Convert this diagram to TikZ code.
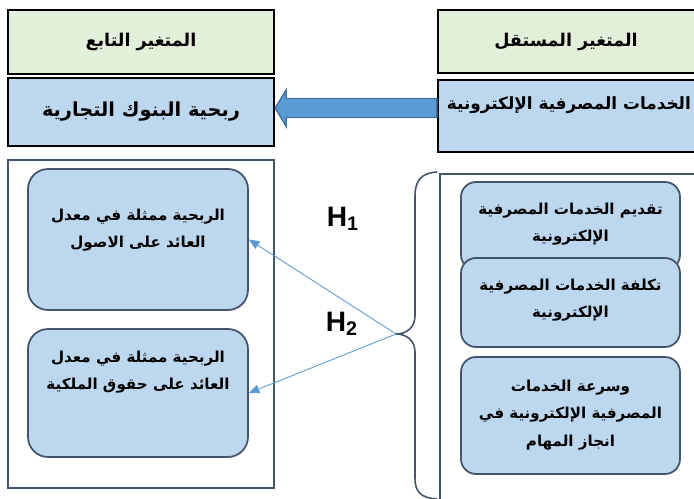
\documentclass[tikz,border=0pt]{standalone}
\usepackage{fontspec}
\usetikzlibrary{calc,arrows.meta}
\TeXXeTstate=1
\newfontfamily\arabicfont[Script=Arabic]{DejaVu Sans}
\newfontfamily\latinfont{Liberation Sans}
\definecolor{headgreen}{HTML}{E2EFD9}
\definecolor{varblue}{HTML}{BDD7EE}
\definecolor{arrowfill}{HTML}{5B9BD5}
\definecolor{arrowline}{HTML}{41719C}
\definecolor{framecol}{HTML}{44546A}
\begin{document}
\begin{tikzpicture}[x=0.02cm,y=-0.02cm,
  head/.style={draw=black,line width=1.4pt,fill=headgreen,minimum width=5.32cm,minimum height=1.28cm,
    font=\arabicfont\bfseries\fontsize{10}{13}\selectfont},
  var/.style={draw=black,line width=1.4pt,fill=varblue,minimum width=5.32cm,minimum height=1.36cm,
    font=\arabicfont\bfseries\fontsize{11}{13}\selectfont},
  frame/.style={draw=framecol,line width=1pt,minimum width=5.32cm,minimum height=6.56cm},
  inbox/.style={draw=framecol,line width=1pt,fill=varblue,rounded corners=0.4cm,minimum width=4.4cm},
  intext/.style={align=center,font=\arabicfont\bfseries\fontsize{8.6}{15.5}\selectfont},
  hyp/.style={draw=arrowfill,line width=0.5pt,-{Triangle[length=6pt,width=5pt]}},
  hlab/.style={font=\latinfont\bfseries\fontsize{16}{18}\selectfont}]
\useasboundingbox (0,0) rectangle (694,499);
\clip (0,0) rectangle (694,499);
\node[head] (depHead) at (141,42) {\beginR المتغير التابع\endR};
\node[var] (depVar) at (141,112) {\beginR ربحية البنوك التجارية\endR};
\node[head,minimum width=5.2cm,minimum height=1.26cm] (indHead) at (568,41.5) {};
\node[font=\arabicfont\bfseries\fontsize{10}{13}\selectfont] (indHeadT) at (566,41.5) {\beginR المتغير المستقل\endR};
\node[var,minimum width=5.2cm,minimum height=1.44cm] (indVar) at (568,116) {};
\node[font=\arabicfont\bfseries\fontsize{9.6}{13}\selectfont,anchor=east,inner sep=1pt] (indVarT) at (693,105) {\beginR الخدمات المصرفية الإلكترونية\endR};
\coordinate (atip) at ($(depVar.east)+(0,-4)$);
\coordinate (aend) at ($(indVar.west)+(0,-8)$);
\draw[fill=arrowfill,draw=arrowline,line width=0.8pt] (atip) -- ++(11,-18) -- ++(0,8.5) -- ($(aend)+(0,-9.5)$)
  -- ($(aend)+(0,9.5)$) -- ($(atip)+(11,9.5)$) -- ++(0,9) -- cycle;
\node[frame] (depFrame) at (141,324) {};
\node[inbox,minimum height=2.82cm] (prof1) at (138,239.5) {};
\node[intext] (prof1t) at (138,230) {\beginR الربحية ممثلة في معدل\endR\\\beginR العائد على الاصول\endR};
\node[inbox,minimum height=2.56cm] (prof2) at (138,393) {};
\node[intext] (prof2t) at (138,372) {\beginR الربحية ممثلة في معدل\endR\\\beginR العائد على حقوق الملكية\endR};
\draw[framecol,line width=1pt] (700,174) -- (440,174) -- (440,505);
\node[inbox,rounded corners=0.3cm,minimum width=4.38cm,minimum height=1.76cm] (srv1) at (570.5,226) {};
\node[intext] (srv1t) at (570.5,224) {\beginR تقديم الخدمات المصرفية\endR\\\beginR الإلكترونية\endR};
\node[inbox,rounded corners=0.3cm,minimum width=4.38cm,minimum height=1.78cm] (srv2) at (570.5,302.5) {};
\node[intext] (srv2t) at (570.5,300) {\beginR تكلفة الخدمات المصرفية\endR\\\beginR الإلكترونية\endR};
\node[inbox,rounded corners=0.3cm,minimum width=4.38cm,minimum height=2.34cm] (srv3) at (570.5,415.5) {};
\node[intext] (srv3t) at (570.5,415) {\beginR وسرعة الخدمات\endR\\\beginR المصرفية الإلكترونية في\endR\\\beginR انجاز المهام\endR};
\coordinate (tip) at (396,334);
\draw[framecol,line width=0.9pt] (437,172) .. controls (421,173) and (415,181) .. (415,196) -- (415,316)
  .. controls (415,327) and (407,334) .. (tip) .. controls (407,334) and (415,341) .. (415,352)
  -- (415,478) .. controls (415,492) and (421,498) .. (437,499);
\draw[hyp] (tip) -- (prof1.east);
\draw[hyp] (tip) -- (prof2.east);
\node[hlab] (h1) at (343,219) {H\textsubscript{1}};
\node[hlab] (h2) at (342,324) {H\textsubscript{2}};
\end{tikzpicture}
\end{document}
